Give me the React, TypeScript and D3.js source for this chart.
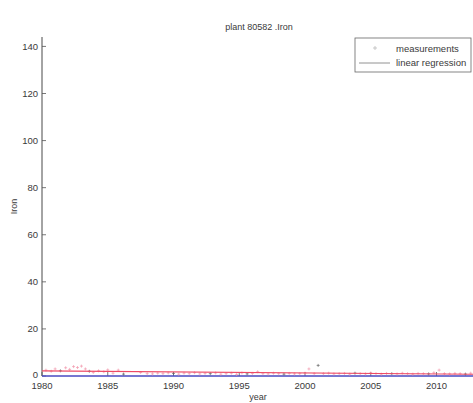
import React from "react";
import * as d3 from "d3";

// Iron concentration measurements for plant 80582
const years: number[] = [
  1980.3, 1980.7, 1981.0, 1981.4, 1981.8, 1982.1, 1982.4, 1982.7, 1983.0, 1983.3,
  1983.6, 1983.9, 1984.3, 1984.7, 1985.0, 1985.4, 1985.8, 1986.2, 1987.5, 1988.0,
  1988.4, 1988.8, 1989.2, 1989.6, 1990.0, 1990.4, 1990.8, 1991.2, 1991.6, 1992.0,
  1992.4, 1992.8, 1993.2, 1993.6, 1994.0, 1994.4, 1994.8, 1995.2, 1995.6, 1996.0,
  1996.4, 1996.8, 1997.2, 1997.6, 1998.0, 1998.4, 1998.8, 1999.2, 1999.6, 2000.0,
  2000.3, 2000.7, 2001.0, 2001.4, 2001.8, 2002.2, 2002.6, 2003.0, 2003.4, 2003.8,
  2004.2, 2004.6, 2005.0, 2005.4, 2005.8, 2006.2, 2006.6, 2007.0, 2007.4, 2007.8,
  2008.2, 2008.6, 2009.0, 2009.4, 2009.8, 2010.2, 2010.6, 2011.0, 2011.4, 2011.8,
  2012.2, 2012.6,
];
const iron: number[] = [
  2.5, 2.0, 3.0, 2.2, 3.5, 2.8, 4.0, 3.6, 4.2, 3.0,
  2.0, 1.5, 2.2, 1.8, 2.6, 1.2, 2.5, 0.8, 1.5, 1.0,
  0.9, 1.2, 1.0, 1.3, 1.1, 0.8, 1.2, 1.0, 1.4, 0.9,
  1.1, 1.0, 1.3, 0.8, 1.0, 1.2, 0.7, 1.3, 0.9, 1.1,
  1.8, 1.0, 0.9, 1.2, 1.0, 0.8, 1.1, 0.9, 1.0, 1.2,
  3.0, 1.0, 4.5, 1.0, 1.2, 0.9, 1.0, 1.1, 0.8, 1.2,
  1.0, 0.9, 1.3, 1.0, 0.8, 1.1, 1.0, 0.9, 1.2, 1.0,
  0.8, 1.1, 1.0, 0.9, 1.4, 2.5, 1.0, 0.9, 1.1, 1.0,
  0.8, 1.2,
];
const xTicks: number[] = [1980, 1985, 1990, 1995, 2000, 2005, 2010];
const yTicks: number[] = [0, 20, 40, 60, 80, 100, 120, 140];
const legendLabels: string[] = ["measurements", "linear regression"];

const W = 473;
const H = 403;
const FONT = "'Liberation Sans', Arial, sans-serif";
const TEXT = "#3a3a3a";

export default function App() {
  const x = d3.scaleLinear().domain([1980, 2015]).range([42, 42 + 35 * 13.15]);
  const y = d3.scaleLinear().domain([0, 144]).range([376, 37]);

  // least-squares fit of iron against year
  const mx = d3.mean(years) as number;
  const my = d3.mean(iron) as number;
  let sxy = 0;
  let sxx = 0;
  years.forEach((t, i) => {
    sxy += (t - mx) * (iron[i] - my);
    sxx += (t - mx) * (t - mx);
  });
  const slope = sxy / sxx;
  const icpt = my - slope * mx;
  const fitX = [1980, 2015];
  const fitLine = d3
    .line<number>()
    .x((t) => x(t))
    .y((t) => y(icpt + slope * t))(fitX);

  const x0 = x(1980);
  const y0 = y(0);
  const xEnd = W;

  return (
    <svg
      width={W}
      height={H}
      style={{ position: "absolute", left: 0, top: 0, background: "#fff" }}
      fontFamily={FONT}
    >
      <defs>
        <clipPath id="plotClip">
          <rect x={x0} y={y(144)} width={xEnd - x0} height={y0 - y(144) + 1} />
        </clipPath>
      </defs>

      {/* title */}
      <text x={259} y={30} textAnchor="middle" fontSize={9} fill={TEXT}>
        plant 80582 .Iron
      </text>

      {/* axes */}
      <line x1={x0} x2={x0} y1={y(144)} y2={y0} stroke="#333" strokeWidth={0.9} />
      <line x1={x0} x2={xEnd} y1={y0} y2={y0} stroke="#333" strokeWidth={0.9} />

      {yTicks.map((v) => (
        <g key={"y" + v}>
          <line x1={x0} x2={x0 + 4} y1={y(v)} y2={y(v)} stroke="#555" strokeWidth={0.8} />
          <text
            x={x0 - 4}
            y={v === 0 ? y(v) + 1.5 : y(v) + 3.5}
            textAnchor="end"
            fontSize={9.5}
            fill={TEXT}
          >
            {v}
          </text>
        </g>
      ))}
      {xTicks.map((v) => (
        <g key={"x" + v}>
          <line x1={x(v)} x2={x(v)} y1={y0} y2={y0 - 4} stroke="#555" strokeWidth={0.8} />
          <text x={x(v)} y={389} textAnchor="middle" fontSize={9.5} fill={TEXT}>
            {v}
          </text>
        </g>
      ))}

      <text x={258} y={400} textAnchor="middle" fontSize={9} fill={TEXT}>
        year
      </text>
      <text
        transform={`translate(17,${y(72)}) rotate(-90)`}
        textAnchor="middle"
        fontSize={9}
        fill={TEXT}
      >
        Iron
      </text>

      <g clipPath="url(#plotClip)">
        {/* zero reference */}
        <line x1={x0} x2={xEnd} y1={y0} y2={y0} stroke="#4a4aff" strokeWidth={1} />
        {/* measurements */}
        {years.map((t, i) => (
          <g key={"m" + i} stroke={i % 7 === 3 ? "#666" : "#f29aae"} strokeWidth={0.7}>
            <line x1={x(t) - 1.5} x2={x(t) + 1.5} y1={y(iron[i])} y2={y(iron[i])} />
            <line x1={x(t)} x2={x(t)} y1={y(iron[i]) - 1.5} y2={y(iron[i]) + 1.5} />
          </g>
        ))}
        {/* linear regression */}
        <path d={fitLine ?? ""} fill="none" stroke="#ee4a66" strokeWidth={1.1} />
      </g>

      {/* legend */}
      <rect x={355} y={38} width={116} height={34} fill="#fff" stroke="#666" strokeWidth={0.8} />
      <g stroke="#bbb" strokeWidth={0.8}>
        <line x1={373} x2={377} y1={48} y2={48} />
        <line x1={375} x2={375} y1={46} y2={50} />
      </g>
      <line x1={359} x2={390} y1={63} y2={63} stroke="#777" strokeWidth={0.8} />
      <text x={396} y={51.5} fontSize={9.5} fill={TEXT}>
        {legendLabels[0]}
      </text>
      <text x={396} y={66} fontSize={9.5} fill={TEXT}>
        {legendLabels[1]}
      </text>
    </svg>
  );
}
